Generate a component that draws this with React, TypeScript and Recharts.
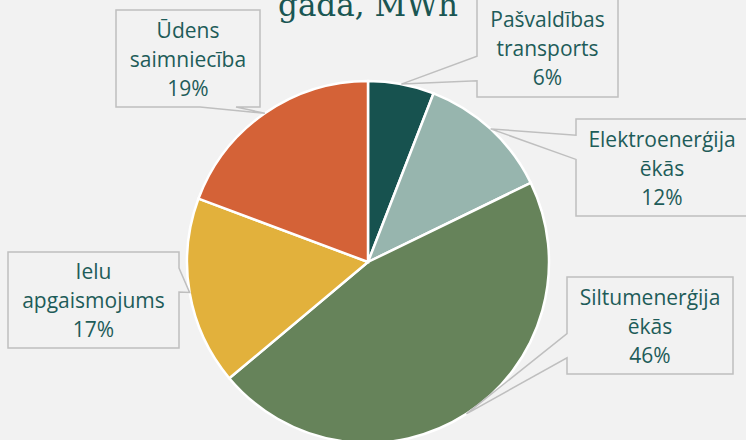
import { PieChart, Pie, Cell } from "recharts";

// Enerģijas patēriņa sadalījums
const CATEGORIES = [
  "Pašvaldības transports",
  "Elektroenerģija ēkās",
  "Siltumenerģija ēkās",
  "Ielu apgaismojums",
  "Ūdens saimniecība",
];
const LABEL_LINES = [
  ["Pašvaldības", "transports"],
  ["Elektroenerģija", "ēkās"],
  ["Siltumenerģija", "ēkās"],
  ["Ielu", "apgaismojums"],
  ["Ūdens", "saimniecība"],
];
const SHARES = [5.9, 11.9, 46.1, 16.8, 19.3];
const COLORS = ["#17524F", "#97B5AE", "#66835A", "#E2B13C", "#D46237"];

// callout box placement (layout only)
const BOXES = [
  { x: 477, y: -1, w: 141, h: 98 },
  { x: 576, y: 119, w: 172, h: 97 },
  { x: 567, y: 277, w: 166, h: 97 },
  { x: 8, y: 252, w: 171, h: 96 },
  { x: 116, y: 10, w: 144, h: 97 },
];

const BG = "#F2F2F2";
const TEXT = "#1E5C59";
const RAD = Math.PI / 180;

const chartData = CATEGORIES.map((name, i) => ({ name, value: SHARES[i] }));

// rectangle with a wedge pointing at (ax, ay), like the office callout shape
const calloutPath = (b: { x: number; y: number; w: number; h: number }, ax: number, ay: number) => {
  const { x, y, w, h } = b;
  const cx = x + w / 2;
  const cy = y + h / 2;
  const dx = (ax - cx) / w;
  const dy = (ay - cy) / h;
  const far = (v: boolean) => (v ? [7 / 12, 10 / 12] : [2 / 12, 5 / 12]);
  const p: string[] = [`M${x},${y}`];
  if (Math.abs(dx) <= Math.abs(dy) && dy < 0) {
    const [a, c] = far(ax > cx);
    p.push(`L${x + w * a},${y}`, `L${ax},${ay}`, `L${x + w * c},${y}`);
  }
  p.push(`L${x + w},${y}`);
  if (Math.abs(dx) > Math.abs(dy) && dx > 0) {
    const [a, c] = far(ay > cy);
    p.push(`L${x + w},${y + h * a}`, `L${ax},${ay}`, `L${x + w},${y + h * c}`);
  }
  p.push(`L${x + w},${y + h}`);
  if (Math.abs(dx) <= Math.abs(dy) && dy > 0) {
    const [a, c] = far(ax > cx);
    p.push(`L${x + w * c},${y + h}`, `L${ax},${ay}`, `L${x + w * a},${y + h}`);
  }
  p.push(`L${x},${y + h}`);
  if (Math.abs(dx) > Math.abs(dy) && dx < 0) {
    const [a, c] = far(ay > cy);
    p.push(`L${x},${y + h * c}`, `L${ax},${ay}`, `L${x},${y + h * a}`);
  }
  p.push("Z");
  return p.join(" ");
};

const renderLabel = (props: any) => {
  const { cx, cy, midAngle, outerRadius, percent, index } = props;
  const ax = cx + outerRadius * Math.cos(-midAngle * RAD);
  const ay = cy + outerRadius * Math.sin(-midAngle * RAD);
  const b = BOXES[index];
  const tx = b.x + b.w / 2;
  const ty = b.y + b.h / 2;
  const lines = [...LABEL_LINES[index], `${Math.round(percent * 100)}%`];
  return (
    <g key={`lbl-${index}`}>
      <path d={calloutPath(b, ax, ay)} fill={BG} stroke="#BFBFBF" strokeWidth={1.5} />
      <text
        x={tx}
        textAnchor="middle"
        fill={TEXT}
        fontFamily="'Open Sans', sans-serif"
        fontSize={21}
      >
        {lines.map((l, i) => (
          <tspan key={i} x={tx} y={ty + (i - 1) * 29} dominantBaseline="central">
            {l}
          </tspan>
        ))}
      </text>
    </g>
  );
};

export default function App() {
  return (
    <div
      style={{
        position: "absolute",
        left: 0,
        top: 0,
        width: 746,
        height: 440,
        background: BG,
        overflow: "hidden",
      }}
    >
      <div
        style={{
          position: "absolute",
          top: -12,
          left: 0,
          width: 736,
          textAlign: "center",
          fontFamily: "'DejaVu Serif', serif",
          fontSize: 31,
          lineHeight: "34px",
          color: "#1A5653",
        }}
      >
        gada, MWh
      </div>
      <PieChart
        width={746}
        height={440}
        margin={{ top: 0, right: 0, bottom: 0, left: 0 }}
        style={{ position: "absolute", left: 0, top: 0 }}
      >
        <Pie
          data={chartData}
          dataKey="value"
          nameKey="name"
          cx={368}
          cy={262}
          outerRadius={181}
          startAngle={90}
          endAngle={-270}
          stroke="#FFFFFF"
          strokeWidth={2.5}
          label={renderLabel}
          labelLine={false}
          isAnimationActive={false}
        >
          {chartData.map((entry, index) => (
            <Cell key={`cell-${index}`} fill={COLORS[index]} />
          ))}
        </Pie>
      </PieChart>
    </div>
  );
}
